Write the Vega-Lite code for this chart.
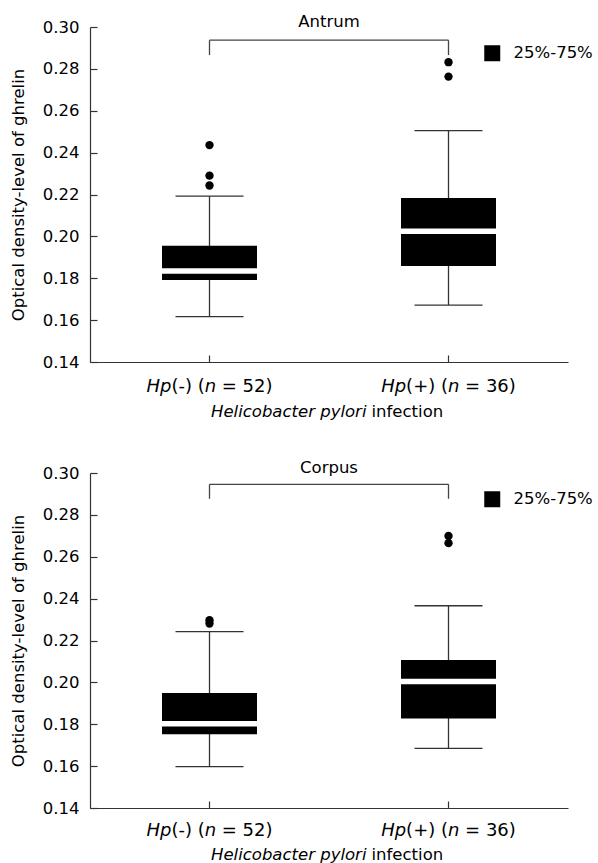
{
  "$schema": "https://vega.github.io/schema/vega-lite/v6.json",
  "padding": {"left": 10, "top": 13, "right": 0, "bottom": 0},
  "config": {
    "font": "DejaVu Sans",
    "view": {"stroke": null},
    "axis": {"grid": false, "domainColor": "#333", "tickColor": "#333", "labelColor": "#000", "titleColor": "#000", "labelFontSize": 16.5, "titleFontSize": 16.5, "titleFontWeight": "normal", "domainWidth": 1.2, "tickWidth": 1.2},
    "title": {"fontSize": 16.5, "fontWeight": "normal", "color": "#000", "frame": "group", "baseline": "alphabetic", "offset": -11}
  },
  "datasets": {
    "stats": [
      {"panel": "Antrum", "group": "Hp(-) (n = 52)", "lo": 0.1617, "q1": 0.1792, "median": 0.1835, "q3": 0.1955, "hi": 0.2192, "legend": "25%-75%"},
      {"panel": "Antrum", "group": "Hp(+) (n = 36)", "lo": 0.1672, "q1": 0.1858, "median": 0.2025, "q3": 0.2183, "hi": 0.2505, "legend": "25%-75%"},
      {"panel": "Corpus", "group": "Hp(-) (n = 52)", "lo": 0.1598, "q1": 0.1752, "median": 0.1802, "q3": 0.1949, "hi": 0.2242, "legend": "25%-75%"},
      {"panel": "Corpus", "group": "Hp(+) (n = 36)", "lo": 0.1685, "q1": 0.1828, "median": 0.2004, "q3": 0.2107, "hi": 0.2366, "legend": "25%-75%"}
    ],
    "outliers": [
      {"panel": "Antrum", "group": "Hp(-) (n = 52)", "value": 0.2436},
      {"panel": "Antrum", "group": "Hp(-) (n = 52)", "value": 0.2290},
      {"panel": "Antrum", "group": "Hp(-) (n = 52)", "value": 0.2243},
      {"panel": "Antrum", "group": "Hp(+) (n = 36)", "value": 0.2832},
      {"panel": "Antrum", "group": "Hp(+) (n = 36)", "value": 0.2763},
      {"panel": "Corpus", "group": "Hp(-) (n = 52)", "value": 0.2297},
      {"panel": "Corpus", "group": "Hp(-) (n = 52)", "value": 0.2281},
      {"panel": "Corpus", "group": "Hp(+) (n = 36)", "value": 0.2699},
      {"panel": "Corpus", "group": "Hp(+) (n = 36)", "value": 0.2665}
    ],
    "bracket": [
      {"panel": "Antrum", "group": "Hp(-) (n = 52)", "top": 0.2937, "bottom": 0.2866},
      {"panel": "Antrum", "group": "Hp(+) (n = 36)", "top": 0.2937, "bottom": 0.2866},
      {"panel": "Corpus", "group": "Hp(-) (n = 52)", "top": 0.2946, "bottom": 0.2877},
      {"panel": "Corpus", "group": "Hp(+) (n = 36)", "top": 0.2946, "bottom": 0.2877}
    ]
  },
  "spacing": 39,
  "resolve": {"scale": {"color": "independent"}, "legend": {"color": "independent"}},
  "vconcat": [
    {
      "title": {"text": "Antrum"},
      "width": 478, "height": 335,
      "resolve": {"axis": {"x": "independent"}},
      "layer": [
        {"data": {"name": "stats"}, "transform": [{"filter": "datum.panel == 'Antrum'"}],
         "mark": {"type": "rule", "color": "#333", "strokeWidth": 1.3},
         "encoding": {
           "x": {"field": "group", "type": "nominal", "scale": {"domain": ["Hp(-) (n = 52)", "Hp(+) (n = 36)"], "paddingInner": 0, "paddingOuter": 0},
                 "axis": {"orient": "bottom", "labels": false, "tickSize": -7, "title": "Helicobacter pylori", "titleFontStyle": "italic", "titleX": 276, "titleAlign": "right", "titleY": 54, "titleBaseline": "alphabetic"}},
           "y": {"field": "lo", "type": "quantitative", "scale": {"domain": [0.14, 0.30], "nice": false, "zero": false},
                 "axis": {"title": "Optical density-level of ghrelin", "values": [0.14, 0.16, 0.18, 0.20, 0.22, 0.24, 0.26, 0.28, 0.30], "format": ".2f", "tickSize": -7, "labelPadding": 18, "titlePadding": 16}},
           "y2": {"field": "hi"}
         }},
        {"data": {"name": "stats"}, "transform": [{"filter": "datum.panel == 'Antrum'"}],
         "mark": {"type": "bar", "width": 95},
         "encoding": {
           "x": {"field": "group", "type": "nominal",
                 "axis": {"orient": "bottom", "domain": false, "ticks": false, "tickSize": 0, "labelPadding": 15, "labelFontSize": 18, "labelFontStyle": "italic", "labelAngle": 0, "labelAlign": "left", "labelExpr": "slice(datum.label, 0, 2)",
                          "labelOffset": {"condition": {"test": "datum.value == 'Hp(+) (n = 36)'", "value": -67.35}, "value": -63.05},
                          "title": "infection", "titleX": 281, "titleAlign": "left", "titleY": 54, "titleBaseline": "alphabetic"}},
           "y": {"field": "q1", "type": "quantitative"},
           "y2": {"field": "q3"},
           "color": {"field": "legend", "type": "nominal", "scale": {"range": ["#000"]},
                     "legend": {"title": null, "orient": "none", "legendX": 394, "legendY": 18, "symbolType": "square", "symbolSize": 256, "symbolStrokeWidth": 0, "labelFontSize": 16.5, "labelOffset": 13, "labelColor": "#000"}}
         }},
        {"data": {"name": "stats"}, "transform": [{"filter": "datum.panel == 'Antrum'"}],
         "mark": {"type": "tick", "color": "#fff", "size": 95, "thickness": 5.5, "opacity": 1},
         "encoding": {"x": {"field": "group", "type": "nominal",
                 "axis": {"orient": "bottom", "domain": false, "ticks": false, "tickSize": 0, "labelPadding": 15, "labelFontSize": 18, "labelAngle": 0, "labelAlign": "left", "labelExpr": "slice(datum.label, 2, 7)",
                          "labelOffset": {"condition": {"test": "datum.value == 'Hp(+) (n = 36)'", "value": -42.38}, "value": -38.08}, "title": null}},
           "y": {"field": "median", "type": "quantitative"}}},
        {"data": {"name": "stats"}, "transform": [{"filter": "datum.panel == 'Antrum'"}],
         "mark": {"type": "tick", "color": "#333", "size": 68, "thickness": 1.3, "opacity": 1},
         "encoding": {"x": {"field": "group", "type": "nominal",
                 "axis": {"orient": "bottom", "domain": false, "ticks": false, "tickSize": 0, "labelPadding": 15, "labelFontSize": 18, "labelFontStyle": "italic", "labelAngle": 0, "labelAlign": "left", "labelExpr": "slice(datum.label, 7, 8)",
                          "labelOffset": {"condition": {"test": "datum.value == 'Hp(+) (n = 36)'", "value": -0.51}, "value": -4.8}, "title": null}},
           "y": {"field": "lo", "type": "quantitative"}}},
        {"data": {"name": "stats"}, "transform": [{"filter": "datum.panel == 'Antrum'"}],
         "mark": {"type": "tick", "color": "#333", "size": 68, "thickness": 1.3, "opacity": 1},
         "encoding": {"x": {"field": "group", "type": "nominal",
                 "axis": {"orient": "bottom", "domain": false, "ticks": false, "tickSize": 0, "labelPadding": 15, "labelFontSize": 18, "labelAngle": 0, "labelAlign": "right", "labelExpr": "slice(datum.label, 9)",
                          "labelOffset": {"condition": {"test": "datum.value == 'Hp(+) (n = 36)'", "value": 67.35}, "value": 63.05}, "title": null}},
           "y": {"field": "hi", "type": "quantitative"}}},
        {"data": {"name": "outliers"}, "transform": [{"filter": "datum.panel == 'Antrum'"}],
         "mark": {"type": "point", "filled": true, "color": "#000", "size": 70, "opacity": 1},
         "encoding": {"x": {"field": "group", "type": "nominal", "axis": null}, "y": {"field": "value", "type": "quantitative"}}},
        {"data": {"name": "bracket"}, "transform": [{"filter": "datum.panel == 'Antrum'"}],
         "mark": {"type": "line", "color": "#444", "strokeWidth": 1.3},
         "encoding": {"x": {"field": "group", "type": "nominal", "axis": null}, "y": {"field": "top", "type": "quantitative"}}},
        {"data": {"name": "bracket"}, "transform": [{"filter": "datum.panel == 'Antrum'"}],
         "mark": {"type": "rule", "color": "#444", "strokeWidth": 1.3},
         "encoding": {"x": {"field": "group", "type": "nominal", "axis": null}, "y": {"field": "top", "type": "quantitative"}, "y2": {"field": "bottom"}}}
      ]
    },
    {
      "title": {"text": "Corpus"},
      "width": 478, "height": 335,
      "resolve": {"axis": {"x": "independent"}},
      "layer": [
        {"data": {"name": "stats"}, "transform": [{"filter": "datum.panel == 'Corpus'"}],
         "mark": {"type": "rule", "color": "#333", "strokeWidth": 1.3},
         "encoding": {
           "x": {"field": "group", "type": "nominal", "scale": {"domain": ["Hp(-) (n = 52)", "Hp(+) (n = 36)"], "paddingInner": 0, "paddingOuter": 0},
                 "axis": {"orient": "bottom", "labels": false, "tickSize": -7, "title": "Helicobacter pylori", "titleFontStyle": "italic", "titleX": 276, "titleAlign": "right", "titleY": 51, "titleBaseline": "alphabetic"}},
           "y": {"field": "lo", "type": "quantitative", "scale": {"domain": [0.14, 0.30], "nice": false, "zero": false},
                 "axis": {"title": "Optical density-level of ghrelin", "values": [0.14, 0.16, 0.18, 0.20, 0.22, 0.24, 0.26, 0.28, 0.30], "format": ".2f", "tickSize": -7, "labelPadding": 18, "titlePadding": 16}},
           "y2": {"field": "hi"}
         }},
        {"data": {"name": "stats"}, "transform": [{"filter": "datum.panel == 'Corpus'"}],
         "mark": {"type": "bar", "width": 95},
         "encoding": {
           "x": {"field": "group", "type": "nominal",
                 "axis": {"orient": "bottom", "domain": false, "ticks": false, "tickSize": 0, "labelPadding": 13, "labelFontSize": 18, "labelFontStyle": "italic", "labelAngle": 0, "labelAlign": "left", "labelExpr": "slice(datum.label, 0, 2)",
                          "labelOffset": {"condition": {"test": "datum.value == 'Hp(+) (n = 36)'", "value": -67.35}, "value": -63.05},
                          "title": "infection", "titleX": 281, "titleAlign": "left", "titleY": 51, "titleBaseline": "alphabetic"}},
           "y": {"field": "q1", "type": "quantitative"},
           "y2": {"field": "q3"},
           "color": {"field": "legend", "type": "nominal", "scale": {"range": ["#000"]},
                     "legend": {"title": null, "orient": "none", "legendX": 394, "legendY": 18, "symbolType": "square", "symbolSize": 256, "symbolStrokeWidth": 0, "labelFontSize": 16.5, "labelOffset": 13, "labelColor": "#000"}}
         }},
        {"data": {"name": "stats"}, "transform": [{"filter": "datum.panel == 'Corpus'"}],
         "mark": {"type": "tick", "color": "#fff", "size": 95, "thickness": 5.5, "opacity": 1},
         "encoding": {"x": {"field": "group", "type": "nominal",
                 "axis": {"orient": "bottom", "domain": false, "ticks": false, "tickSize": 0, "labelPadding": 13, "labelFontSize": 18, "labelAngle": 0, "labelAlign": "left", "labelExpr": "slice(datum.label, 2, 7)",
                          "labelOffset": {"condition": {"test": "datum.value == 'Hp(+) (n = 36)'", "value": -42.38}, "value": -38.08}, "title": null}},
           "y": {"field": "median", "type": "quantitative"}}},
        {"data": {"name": "stats"}, "transform": [{"filter": "datum.panel == 'Corpus'"}],
         "mark": {"type": "tick", "color": "#333", "size": 68, "thickness": 1.3, "opacity": 1},
         "encoding": {"x": {"field": "group", "type": "nominal",
                 "axis": {"orient": "bottom", "domain": false, "ticks": false, "tickSize": 0, "labelPadding": 13, "labelFontSize": 18, "labelFontStyle": "italic", "labelAngle": 0, "labelAlign": "left", "labelExpr": "slice(datum.label, 7, 8)",
                          "labelOffset": {"condition": {"test": "datum.value == 'Hp(+) (n = 36)'", "value": -0.51}, "value": -4.8}, "title": null}},
           "y": {"field": "lo", "type": "quantitative"}}},
        {"data": {"name": "stats"}, "transform": [{"filter": "datum.panel == 'Corpus'"}],
         "mark": {"type": "tick", "color": "#333", "size": 68, "thickness": 1.3, "opacity": 1},
         "encoding": {"x": {"field": "group", "type": "nominal",
                 "axis": {"orient": "bottom", "domain": false, "ticks": false, "tickSize": 0, "labelPadding": 13, "labelFontSize": 18, "labelAngle": 0, "labelAlign": "right", "labelExpr": "slice(datum.label, 9)",
                          "labelOffset": {"condition": {"test": "datum.value == 'Hp(+) (n = 36)'", "value": 67.35}, "value": 63.05}, "title": null}},
           "y": {"field": "hi", "type": "quantitative"}}},
        {"data": {"name": "outliers"}, "transform": [{"filter": "datum.panel == 'Corpus'"}],
         "mark": {"type": "point", "filled": true, "color": "#000", "size": 70, "opacity": 1},
         "encoding": {"x": {"field": "group", "type": "nominal", "axis": null}, "y": {"field": "value", "type": "quantitative"}}},
        {"data": {"name": "bracket"}, "transform": [{"filter": "datum.panel == 'Corpus'"}],
         "mark": {"type": "line", "color": "#444", "strokeWidth": 1.3},
         "encoding": {"x": {"field": "group", "type": "nominal", "axis": null}, "y": {"field": "top", "type": "quantitative"}}},
        {"data": {"name": "bracket"}, "transform": [{"filter": "datum.panel == 'Corpus'"}],
         "mark": {"type": "rule", "color": "#444", "strokeWidth": 1.3},
         "encoding": {"x": {"field": "group", "type": "nominal", "axis": null}, "y": {"field": "top", "type": "quantitative"}, "y2": {"field": "bottom"}}}
      ]
    }
  ]
}
